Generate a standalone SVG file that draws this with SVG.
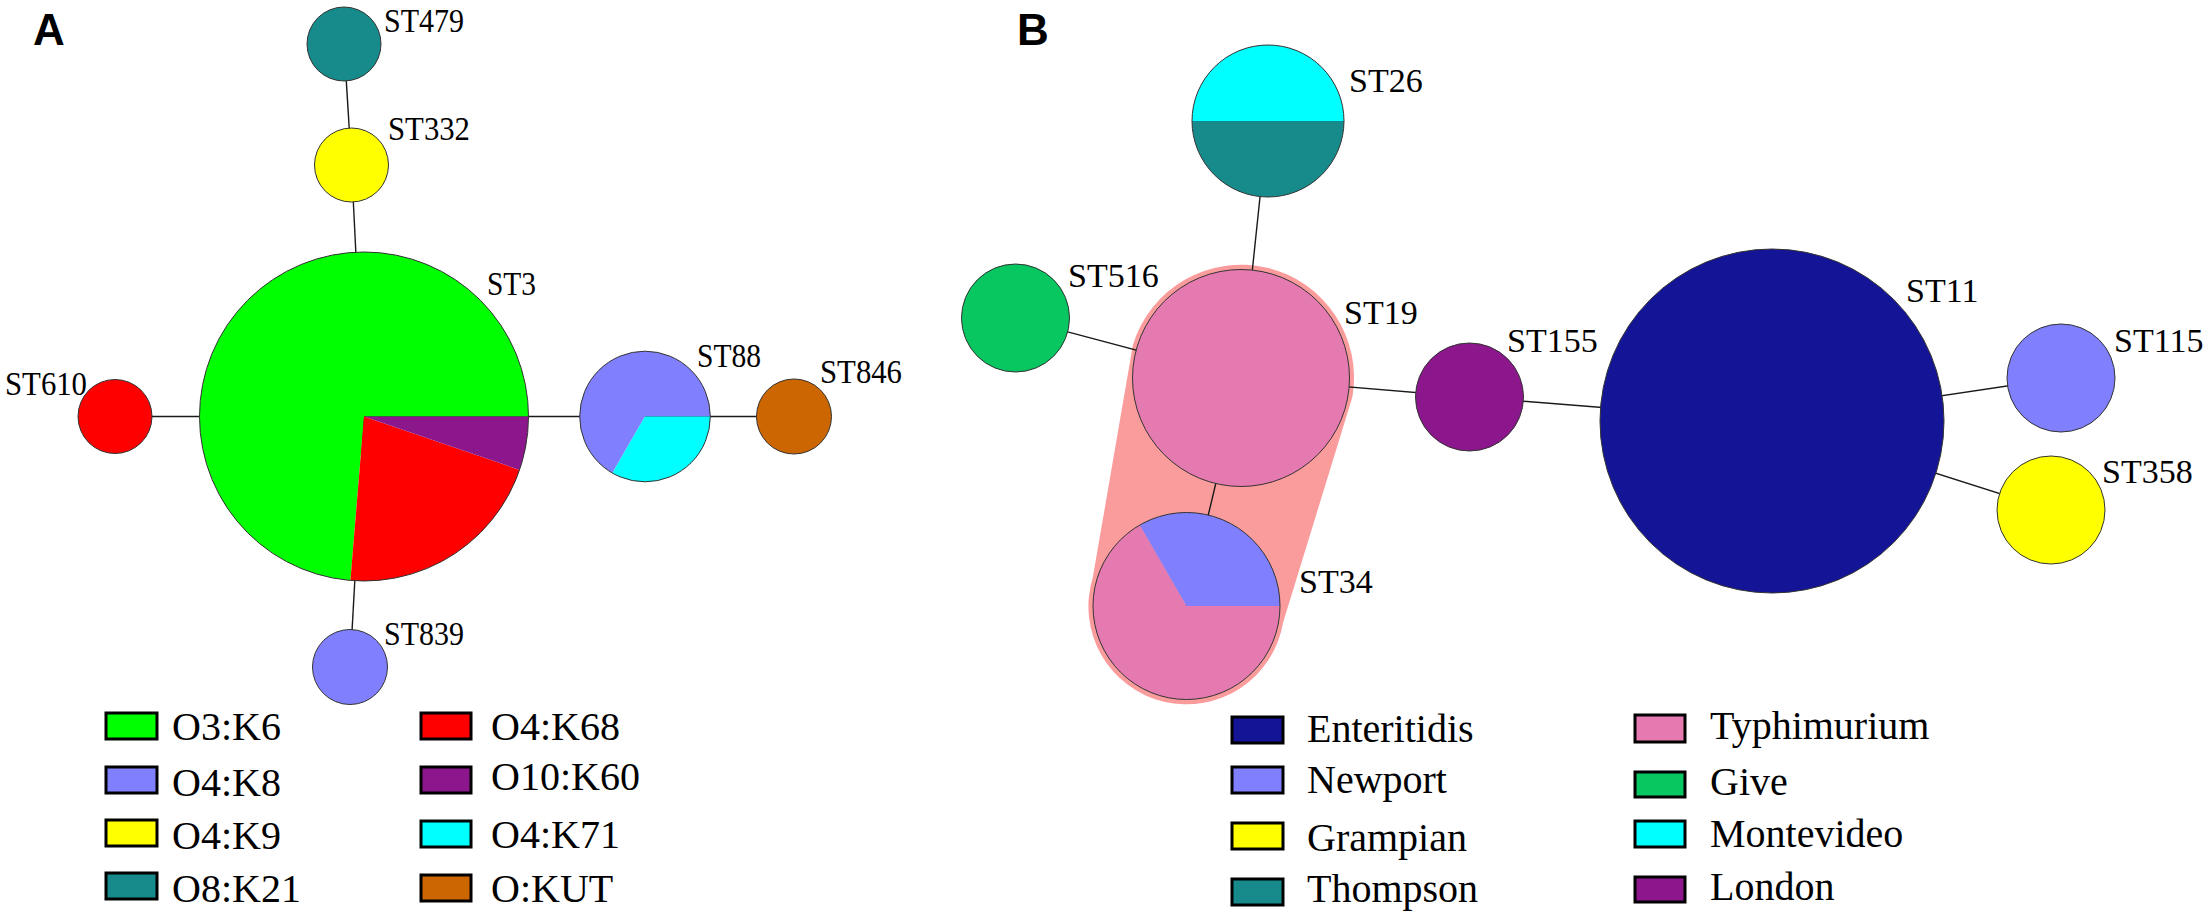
<svg xmlns="http://www.w3.org/2000/svg" width="2212" height="921" viewBox="0 0 2212 921">
<style>
.bg{fill:#ffffff}
.edge{stroke:#1a1a1a;stroke-width:1.4;fill:none}
.ol{fill:none;stroke:#333333;stroke-width:1}
.nd{stroke:#333333;stroke-width:1}
.lbl{font-family:"Liberation Serif","Times New Roman",serif;font-size:33px;fill:#000}
.lblb{font-family:"Liberation Serif","Times New Roman",serif;font-size:34px;fill:#000}
.leg{font-family:"Liberation Serif","Times New Roman",serif;font-size:40px;fill:#000}
.panel{font-family:"Liberation Sans",Arial,sans-serif;font-size:44px;font-weight:bold;fill:#000}
.sw{stroke:#000;stroke-width:3}
.green{fill:#00ff00}.red{fill:#ff0000}.purple{fill:#8c178c}.lav{fill:#8080ff}
.yellow{fill:#ffff00}.teal{fill:#178b8b}.cyan{fill:#00ffff}.orange{fill:#cc6600}
.navy{fill:#141496}.give{fill:#08c660}.pink{fill:#e57ab0}.hull{fill:#fb9c9c}
</style>
<rect class="bg" x="0" y="0" width="2212" height="921"/>

<text class="panel" x="33" y="45">A</text>
<text class="panel" x="1017" y="45">B</text>

<g id="hull-typhimurium">
<path class="hull" d="M1132.9,345 A113,113 0 0 1 1352.4,397 L1283.1,622.4 A98,98 0 1 1 1092.8,577.4 Z"/>
</g>

<g id="connectors">
<line class="edge" x1="344" y1="44" x2="351.5" y2="165"/>
<line class="edge" x1="351.5" y1="165" x2="364" y2="416.5"/>
<line class="edge" x1="115" y1="416.5" x2="364" y2="416.5"/>
<line class="edge" x1="364" y1="416.5" x2="645" y2="416.5"/>
<line class="edge" x1="645" y1="416.5" x2="794" y2="416.5"/>
<line class="edge" x1="364" y1="416.5" x2="350" y2="667"/>
<line class="edge" x1="1268" y1="121" x2="1241" y2="378"/>
<line class="edge" x1="1015.5" y1="318" x2="1241" y2="378"/>
<line class="edge" x1="1241" y1="378" x2="1469.5" y2="397"/>
<line class="edge" x1="1241" y1="378" x2="1186.5" y2="606"/>
<line class="edge" x1="1469.5" y1="397" x2="1772" y2="421"/>
<line class="edge" x1="1772" y1="421" x2="2061" y2="378"/>
<line class="edge" x1="1772" y1="421" x2="2051" y2="510"/>
</g>

<g id="ST479">
<circle class="nd teal" cx="344" cy="44" r="37"/>
<text class="lbl" x="384" y="32" textLength="80" lengthAdjust="spacingAndGlyphs">ST479</text>
</g>
<g id="ST332">
<circle class="nd yellow" cx="351.5" cy="165" r="37"/>
<text class="lbl" x="388" y="140" textLength="82" lengthAdjust="spacingAndGlyphs">ST332</text>
</g>
<g id="ST3">
<path class="green" d="M364,416.5 L350.4,580.4 A164.5,164.5 0 1 1 528.5,416.5 Z"/>
<path class="red" d="M364,416.5 L519.6,469.9 A164.5,164.5 0 0 1 350.4,580.4 Z"/>
<path class="purple" d="M364,416.5 L528.5,416.5 A164.5,164.5 0 0 1 519.6,469.9 Z"/>
<circle class="ol" cx="364" cy="416.5" r="164.5"/>
<text class="lbl" x="487" y="295" textLength="49" lengthAdjust="spacingAndGlyphs">ST3</text>
</g>
<g id="ST610">
<circle class="nd red" cx="115" cy="416.5" r="37"/>
<text class="lbl" x="5" y="395" textLength="82" lengthAdjust="spacingAndGlyphs">ST610</text>
</g>
<g id="ST88">
<path class="lav" d="M645,416.5 L612.35,473.05 A65.3,65.3 0 1 1 710.3,416.5 Z"/>
<path class="cyan" d="M645,416.5 L710.3,416.5 A65.3,65.3 0 0 1 612.35,473.05 Z"/>
<circle class="ol" cx="645" cy="416.5" r="65.3"/>
<text class="lbl" x="697" y="367" textLength="64" lengthAdjust="spacingAndGlyphs">ST88</text>
</g>
<g id="ST846">
<circle class="nd orange" cx="794" cy="416.5" r="37.5"/>
<text class="lbl" x="820" y="383" textLength="82" lengthAdjust="spacingAndGlyphs">ST846</text>
</g>
<g id="ST839">
<circle class="nd lav" cx="350" cy="667" r="37.5"/>
<text class="lbl" x="384" y="645" textLength="80" lengthAdjust="spacingAndGlyphs">ST839</text>
</g>

<g id="legend-A">
<rect class="sw green" x="106" y="713" width="51" height="26"/>
<text class="leg" x="172" y="740">O3:K6</text>
<rect class="sw lav" x="106" y="767" width="51" height="26"/>
<text class="leg" x="172" y="796">O4:K8</text>
<rect class="sw yellow" x="106" y="820" width="51" height="26"/>
<text class="leg" x="172" y="849">O4:K9</text>
<rect class="sw teal" x="106" y="873" width="51" height="26"/>
<text class="leg" x="172" y="902">O8:K21</text>
<rect class="sw red" x="421" y="713" width="50" height="26"/>
<text class="leg" x="491" y="740">O4:K68</text>
<rect class="sw purple" x="421" y="767" width="50" height="26"/>
<text class="leg" x="491" y="790">O10:K60</text>
<rect class="sw cyan" x="421" y="821" width="50" height="26"/>
<text class="leg" x="491" y="848">O4:K71</text>
<rect class="sw orange" x="421" y="875" width="50" height="26"/>
<text class="leg" x="491" y="902">O:KUT</text>
</g>

<g id="ST26">
<path class="cyan" d="M1192,121 A76,76 0 0 1 1344,121 Z"/>
<path class="teal" d="M1344,121 A76,76 0 0 1 1192,121 Z"/>
<circle class="ol" cx="1268" cy="121" r="76"/>
<text class="lblb" x="1349" y="92">ST26</text>
</g>
<g id="ST516">
<circle class="nd give" cx="1015.5" cy="318" r="54"/>
<text class="lblb" x="1068" y="287">ST516</text>
</g>
<g id="ST19">
<circle class="nd pink" cx="1241" cy="378" r="108.5"/>
<text class="lblb" x="1344" y="324">ST19</text>
</g>
<g id="ST34">
<path class="pink" d="M1186.5,606 L1280,606 A93.5,93.5 0 1 1 1139.75,525.03 Z"/>
<path class="lav" d="M1186.5,606 L1139.75,525.03 A93.5,93.5 0 0 1 1280,606 Z"/>
<circle class="ol" cx="1186.5" cy="606" r="93.5"/>
<text class="lblb" x="1299" y="593">ST34</text>
</g>
<g id="ST155">
<circle class="nd purple" cx="1469.5" cy="397" r="54"/>
<text class="lblb" x="1507" y="352">ST155</text>
</g>
<g id="ST11">
<circle class="nd navy" cx="1772" cy="421" r="172"/>
<text class="lblb" x="1906" y="302">ST11</text>
</g>
<g id="ST115">
<circle class="nd lav" cx="2061" cy="378" r="54"/>
<text class="lblb" x="2114" y="352">ST115</text>
</g>
<g id="ST358">
<circle class="nd yellow" cx="2051" cy="510" r="54"/>
<text class="lblb" x="2102" y="483">ST358</text>
</g>

<g id="legend-B">
<rect class="sw navy" x="1232" y="717" width="51" height="26"/>
<text class="leg" x="1307" y="742">Enteritidis</text>
<rect class="sw lav" x="1232" y="767" width="51" height="26"/>
<text class="leg" x="1307" y="793">Newport</text>
<rect class="sw yellow" x="1232" y="823" width="51" height="26"/>
<text class="leg" x="1307" y="851">Grampian</text>
<rect class="sw teal" x="1232" y="879" width="51" height="26"/>
<text class="leg" x="1307" y="902">Thompson</text>
<rect class="sw pink" x="1635" y="715" width="50" height="27"/>
<text class="leg" x="1710" y="739">Typhimurium</text>
<rect class="sw give" x="1635" y="772" width="50" height="25"/>
<text class="leg" x="1710" y="795">Give</text>
<rect class="sw cyan" x="1635" y="821" width="50" height="26"/>
<text class="leg" x="1710" y="847">Montevideo</text>
<rect class="sw purple" x="1635" y="877" width="50" height="25"/>
<text class="leg" x="1710" y="900">London</text>
</g>
</svg>
